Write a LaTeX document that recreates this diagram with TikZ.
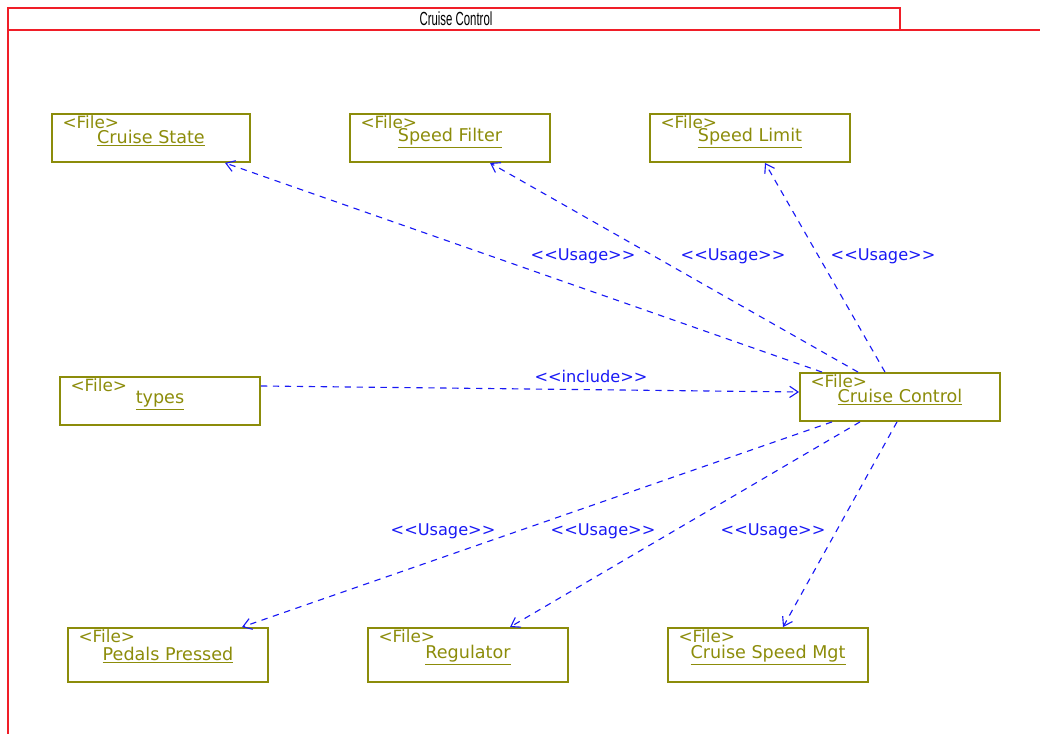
\documentclass[tikz,border=0pt]{standalone}
\usepackage{fontspec}
\newfontfamily\umlfont{DejaVu Sans}
\newfontfamily\titlefont{Liberation Sans}
\usetikzlibrary{arrows.meta, calc}

\definecolor{fileolive}{RGB}{140,140,10}
\definecolor{usageblue}{RGB}{25,25,245}
\definecolor{framered}{RGB}{240,30,40}

\begin{document}
\begin{tikzpicture}[x=0.025cm, y=-0.025cm,
    file node/.style={rectangle, draw=fileolive, line width=1.3pt, minimum width=5cm, minimum height=1.2cm, text=fileolive, font=\umlfont\fontsize{12.5}{14}\selectfont, inner sep=0pt},
    low node/.style={file node, minimum height=1.35cm},
    tag node/.style={text=fileolive, font=\umlfont\fontsize{12}{12}\selectfont, inner sep=0pt, anchor=north west},
    dep/.style={draw=usageblue, dash pattern=on 4.5pt off 4pt, line width=0.8pt, -{Straight Barb[length=6pt, width=8pt]}},
    dep label/.style={text=usageblue, font=\umlfont\fontsize{11.5}{12}\selectfont, inner sep=1pt}]
\useasboundingbox (0,0) rectangle (1040,734);
% package frame
\draw[framered, line width=1.3pt] (8,8) rectangle (900,30);
\draw[framered, line width=1.3pt] (8,30) -- (1045,30);
\draw[framered, line width=1.3pt] (8,8) -- (8,740);
\node[font=\titlefont\fontsize{13.5}{14}\selectfont] (title) at (456,19) {\scalebox{0.6}[1]{Cruise Control}};

% files
\node[file node, minimum width=4.95cm] (cstate) at (151,138) {\underline{Cruise State}};
\node[file node] (sfilter) at (450,138) {\underline{Speed Filter}};
\node[file node] (slimit) at (750,138) {\underline{Speed Limit}};
\node[file node] (types) at (160,401) {\underline{types}};
\node[file node] (cc) at (900,397) {\underline{Cruise Control}};
\node[low node] (pedals) at (168,655) {\underline{Pedals Pressed}};
\node[low node] (reg) at (468,655) {\underline{Regulator}};
\node[low node] (csm) at (768,655) {\underline{Cruise Speed Mgt}};

\foreach \n in {cstate, sfilter, slimit, types, cc, pedals, reg, csm}
    \node[tag node] (\n tag) at ([xshift=8pt, yshift=-1.5pt]\n.north west) {<File>};

% dependencies
\draw[dep] ($(cc.north)+(-78,0)$) -- ($(cstate.south)+(74,0)$);
\draw[dep] ($(cc.north)+(-42,0)$) -- ($(sfilter.south)+(40,0)$);
\draw[dep] ($(cc.north)+(-15,0)$) -- ($(slimit.south)+(15,0)$);
\draw[dep] ($(types.east)+(0,-15)$) -- ($(cc.west)+(0,-5)$);
\draw[dep] ($(cc.south)+(-68,0)$) -- ($(pedals.north)+(74,0)$);
\draw[dep] ($(cc.south)+(-40,0)$) -- ($(reg.north)+(42,0)$);
\draw[dep] ($(cc.south)+(-3,0)$) -- ($(csm.north)+(15,0)$);

\node[dep label] (u1) at (583,256) {<<Usage>>};
\node[dep label] (u2) at (733,256) {<<Usage>>};
\node[dep label] (u3) at (883,256) {<<Usage>>};
\node[dep label] (inc) at (591,376) {<<include>>};
\node[dep label] (u4) at (443,531) {<<Usage>>};
\node[dep label] (u5) at (603,531) {<<Usage>>};
\node[dep label] (u6) at (773,531) {<<Usage>>};
\end{tikzpicture}
\end{document}
